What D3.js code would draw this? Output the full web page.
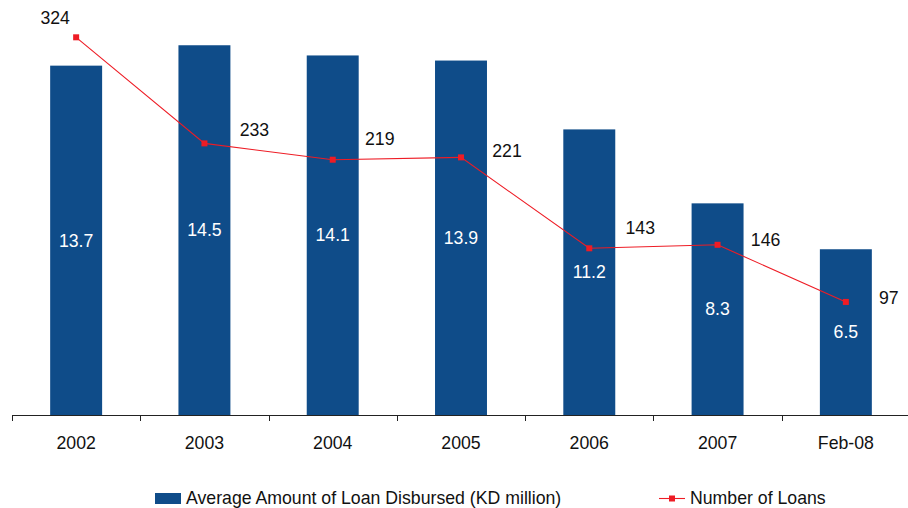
<!DOCTYPE html>
<html>
<head>
<meta charset="utf-8">
<script src="https://cdn.jsdelivr.net/npm/d3@7/dist/d3.min.js"></script>
<style>
  html, body { margin: 0; padding: 0; background: #ffffff; }
  svg { display: block; font-family: "Liberation Sans", Arial, sans-serif; }
</style>
</head>
<body>
<svg id="chart" width="908" height="508"></svg>
<script>
// Loan disbursement data by year
const categories = ["2002", "2003", "2004", "2005", "2006", "2007", "Feb-08"];
const avgLoanAmount = [13.7, 14.5, 14.1, 13.9, 11.2, 8.3, 6.5];   // KD million
const numberOfLoans = [324, 233, 219, 221, 143, 146, 97];
const seriesNames = ["Average Amount of Loan Disbursed (KD million)", "Number of Loans"];

// Label nudges for the loan-count labels (dx, dy from the point)
const loanLabelOffsets = [[-21, -13], [50, -7], [47, -15], [46, 0], [51, -14], [48, 1], [43, 2]];

const svg = d3.select("#chart");
const barColor = "#0f4c89";
const lineColor = "#ee1c25";
const fontSize = 17.7;

const plot = { left: 12, right: 910, top: 7, bottom: 415 };

const x = d3.scaleBand().domain(categories).range([plot.left, plot.right]).padding(0);
const yBar = d3.scaleLinear().domain([0, 16]).range([plot.bottom, plot.top]);
const yLine = d3.scaleLinear().domain([0, 350]).range([plot.bottom, plot.top]);
const barW = x.bandwidth() * 0.405;
const cx = d => x(d) + x.bandwidth() / 2;

// Bars
svg.append("g").selectAll("rect")
  .data(categories)
  .join("rect")
  .attr("x", (d) => cx(d) - barW / 2)
  .attr("y", (d, i) => yBar(avgLoanAmount[i]))
  .attr("width", barW)
  .attr("height", (d, i) => yBar(0) - yBar(avgLoanAmount[i]))
  .attr("fill", barColor);

// Bar value labels, centred in each bar
svg.append("g").selectAll("text")
  .data(categories)
  .join("text")
  .attr("x", d => cx(d))
  .attr("y", (d, i) => (yBar(avgLoanAmount[i]) + yBar(0)) / 2)
  .attr("dy", "0.35em")
  .attr("text-anchor", "middle")
  .attr("fill", "#ffffff")
  .attr("font-size", fontSize)
  .text((d, i) => avgLoanAmount[i].toFixed(1));

// X axis: labels at band centres
const axis = svg.append("g")
  .attr("transform", `translate(0,${plot.bottom})`)
  .call(d3.axisBottom(x).tickSize(0).tickPadding(21.4));
axis.select(".domain").remove();
axis.selectAll("text")
  .attr("font-size", fontSize)
  .attr("font-family", "Liberation Sans, Arial, sans-serif")
  .attr("fill", "#111111");

// Axis line and tick marks at band boundaries
svg.append("line")
  .attr("x1", plot.left).attr("x2", 908)
  .attr("y1", plot.bottom + 0.5).attr("y2", plot.bottom + 0.5)
  .attr("stroke", "#222222").attr("stroke-width", 1);
svg.append("g").selectAll("line")
  .data(categories)
  .join("line")
  .attr("x1", d => Math.round(x(d)) + 0.5)
  .attr("x2", d => Math.round(x(d)) + 0.5)
  .attr("y1", plot.bottom)
  .attr("y2", plot.bottom + 6)
  .attr("stroke", "#222222");

// Number of loans line
const line = d3.line()
  .x((d, i) => cx(categories[i]))
  .y(d => yLine(d));
svg.append("path")
  .datum(numberOfLoans)
  .attr("d", line)
  .attr("fill", "none")
  .attr("stroke", lineColor)
  .attr("stroke-width", 1.1);

svg.append("g").selectAll("rect")
  .data(numberOfLoans)
  .join("rect")
  .attr("x", (d, i) => cx(categories[i]) - 3)
  .attr("y", d => yLine(d) - 3)
  .attr("width", 6)
  .attr("height", 6)
  .attr("fill", lineColor);

svg.append("g").selectAll("text")
  .data(numberOfLoans)
  .join("text")
  .attr("x", (d, i) => cx(categories[i]) + loanLabelOffsets[i][0])
  .attr("y", (d, i) => yLine(d) + loanLabelOffsets[i][1])
  .attr("text-anchor", "middle")
  .attr("fill", "#111111")
  .attr("font-size", fontSize)
  .text(d => d);

// Legend
const legend = svg.append("g");
legend.append("rect")
  .attr("x", 155).attr("y", 493).attr("width", 26).attr("height", 11)
  .attr("fill", barColor);
legend.append("text")
  .attr("x", 186).attr("y", 504)
  .attr("font-size", fontSize).attr("fill", "#111111")
  .text(seriesNames[0]);
legend.append("line")
  .attr("x1", 659).attr("x2", 685).attr("y1", 498.5).attr("y2", 498.5)
  .attr("stroke", lineColor).attr("stroke-width", 1.1);
legend.append("rect")
  .attr("x", 669).attr("y", 495.5).attr("width", 6).attr("height", 6)
  .attr("fill", lineColor);
legend.append("text")
  .attr("x", 690).attr("y", 504)
  .attr("font-size", fontSize).attr("fill", "#111111")
  .text(seriesNames[1]);
</script>
</body>
</html>
